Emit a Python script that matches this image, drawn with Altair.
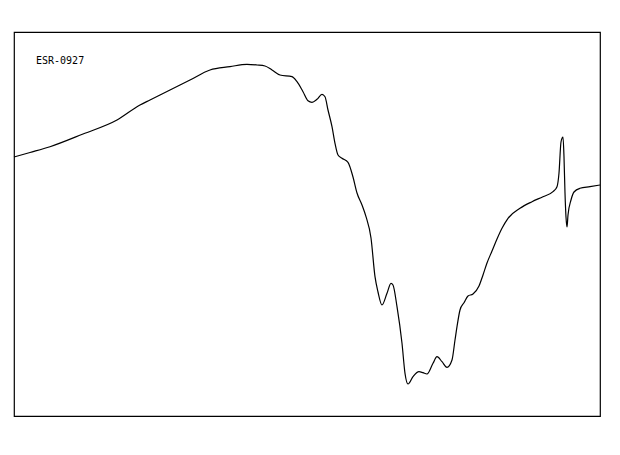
import altair as alt
import pandas as pd

# ESR spectrum trace: field position (arbitrary units) and signal intensity (arbitrary units)
field = [0, 16, 36, 69, 103, 126, 136, 156, 176, 196, 216, 233, 243, 251, 258, 266, 278, 283,
         289, 294, 298, 303, 308, 311, 314, 318, 321, 324, 328, 334, 339, 343, 348, 352, 357,
         361, 364, 368, 373, 377, 379, 383, 388, 391, 394, 399, 405, 409, 413, 419, 423, 428,
         433, 438, 441, 443, 446, 450, 454, 459, 465, 469, 473, 478, 483, 488, 494, 506, 518,
         529, 539, 543, 545, 547, 549, 550, 551, 552, 553, 554, 557, 560, 566, 576, 586]
intensity = [259, 263.5, 269.3, 282, 296, 311, 316, 326, 336, 346, 349.3, 351.7, 351,
             350, 346, 341, 339.3, 334.3, 324.3, 315.3, 313.7, 316.7, 321.7, 319.3, 306, 289.3,
             272.7, 261, 257.7, 253.7, 239, 223, 211, 199.3, 178, 139.3, 124, 111, 122.7, 132.7,
             131, 109.3, 72.7, 42.7, 32, 39.3, 44.3, 43.3, 42, 52.7, 59.3, 54.3, 48.7, 56, 76,
             89.3, 106, 113.3, 120, 122, 130, 141, 153, 165, 177, 187.7, 197.7, 207.7, 214.3,
             219.3, 224.3, 229.3, 243, 274, 279, 259, 223, 199, 189, 201, 216, 224, 227.7, 229.3,
             231]

label_text = "ESR-0927"

df = pd.DataFrame({"field": field, "intensity": intensity})

line = alt.Chart(df).mark_line(color="black", strokeWidth=1.2, interpolate="monotone").encode(
    x=alt.X("field:Q", scale=alt.Scale(domain=[0, 586], nice=False, zero=False), axis=None),
    y=alt.Y("intensity:Q", scale=alt.Scale(domain=[0, 384], nice=False, zero=False), axis=None),
)

label = alt.Chart(pd.DataFrame({"t": [label_text]})).mark_text(
    font="DejaVu Sans Mono", fontSize=10, align="left", baseline="alphabetic", color="black"
).encode(x=alt.value(22), y=alt.value(32), text="t:N")

chart = (line + label).properties(
    width=586, height=384,
    background="white",
    autosize=alt.AutoSizeParams(type="none"),
    padding={"left": 6, "top": 24, "right": 10, "bottom": 30},
).configure_view(stroke="black", strokeWidth=1.2)

chart.save("out.html", embed_options={"renderer": "svg", "actions": False})
